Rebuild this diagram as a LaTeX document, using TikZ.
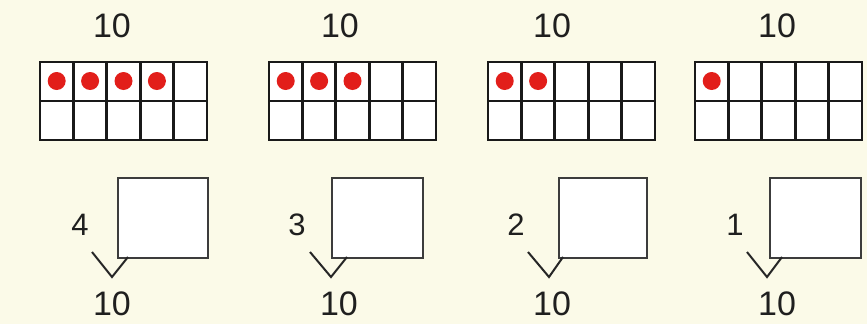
\documentclass[tikz,border=0pt]{standalone}
\usepackage{fontspec}
\setmainfont{Liberation Sans}
\definecolor{bg}{RGB}{251,250,232}
\definecolor{dotred}{RGB}{226,30,26}
\definecolor{boxline}{RGB}{60,60,60}
\tikzset{
  numtext/.style={inner sep=0pt, font=\fontsize{34}{38}\selectfont, text=black!88},
  digittext/.style={inner sep=0pt, font=\fontsize{31}{35}\selectfont, text=black!88},
  cellline/.style={line width=2.8pt, draw=black!90},
  answerbox/.style={draw=boxline, line width=2pt, fill=white, inner sep=0pt},
  vline/.style={draw=black!85, line width=2pt, line join=miter},
  reddot/.style={fill=dotred}
}
\begin{document}
\begin{tikzpicture}[x=1pt,y=-1pt]
\fill[bg] (0,0) rectangle (867,324);
\useasboundingbox (0,0) rectangle (867,324);
\foreach \gl/\tx/\bl/\br/\nx/\va/\vb/\vc/\bx/\n [count=\i] in
  {40/112/117/207/80/92/112/128/112/4,
   269/340/331/422/297/310/331/347/339/3,
   488/552/558/646/516/528/549/563/552/2,
   695/777/769/860/735/747/767/782/777/1}{
  % top label
  \node[numtext] (top\i) at (\tx,25.5) {10};
  % ten frame
  \fill[white] (\gl,62) rectangle ({\gl+167},140);
  \foreach \k in {1,...,\n}{
    \fill[reddot] ({\gl+33.4*(\k-0.5)},81) circle (9);
  }
  \draw[cellline] (\gl,62) rectangle ({\gl+167},140);
  \draw[cellline] (\gl,101) -- ({\gl+167},101);
  \foreach \c in {1,...,4}{
    \draw[cellline] ({\gl+33.4*\c},62) -- ({\gl+33.4*\c},140);
  }
  % answer box
  \node[answerbox, minimum width={\br-\bl}, minimum height=80, anchor=north west] (box\i) at (\bl,177) {};
  \node[digittext] (num\i) at (\nx,225) {\n};
  \node[numtext] (bot\i) at (\bx,304) {10};
  \coordinate (va\i) at (\va,252);
  \coordinate (vb\i) at (\vb,277);
  \coordinate (vc\i) at (\vc,257);
  \draw[vline] (va\i) -- (vb\i) -- (vc\i);
}
\end{tikzpicture}
\end{document}
